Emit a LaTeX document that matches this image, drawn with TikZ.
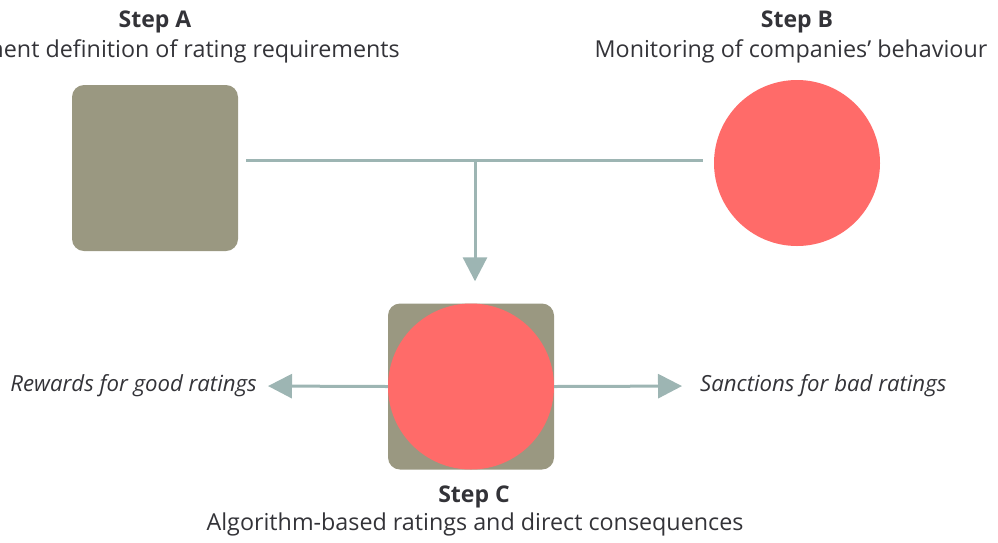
\documentclass[tikz,border=0pt]{standalone}
\usepackage{fontspec}
\setmainfont{Open Sans}
\usetikzlibrary{arrows.meta,positioning}
\definecolor{olive}{RGB}{154,152,129}
\definecolor{salmon}{RGB}{255,107,105}
\definecolor{linkgrey}{RGB}{157,181,179}
\definecolor{txt}{RGB}{51,51,56}
\tikzset{
  square/.style={rectangle,rounded corners=12pt,fill=olive,minimum size=166pt,inner sep=0pt},
  disc/.style={circle,fill=salmon,minimum size=166pt,inner sep=0pt},
  title/.style={font=\bfseries\fontsize{23}{26}\selectfont,text=txt,anchor=base,inner sep=0pt},
  caption/.style={font=\fontsize{23.3}{26}\selectfont,text=txt,anchor=base,inner sep=0pt},
  effect/.style={font=\itshape\fontsize{22.2}{26}\selectfont,text=txt,inner sep=0pt},
  link/.style={draw=linkgrey,line width=3pt},
  arrow/.style={link,-{Triangle[width=24pt,length=24pt]}}
}
\begin{document}
\begin{tikzpicture}[x=1pt,y=-1pt]
	\useasboundingbox (0,0) rectangle (998,542);
	% step A and step B
	\node[square] (stepA) at (155,168) {};
	\node[disc] (stepB) at (797,163) {};
	\node[title] (titleA) at (155,27) {Step A};
	\node[caption,anchor=base east] (textA) at (400,57) {Government definition of rating requirements};
	\node[title] (titleB) at (797,27) {Step B};
	\node[caption] (textB) at (791,57) {Monitoring of companies’ behaviour};
	% step C
	\node[square] (stepC) at (471,386.5) {};
	\node[disc] (discC) at (stepC) {};
	\node[title] (titleC) at (474,502) {Step C};
	\node[caption] (textC) at (475,530) {Algorithm-based ratings and direct consequences};
	\node[effect,anchor=east] (reward) at (257,386) {Rewards for good ratings};
	\node[effect,anchor=west] (sanction) at (700,386) {Sanctions for bad ratings};
	% connectors
	\coordinate (join) at (475,160);
	\draw[link,shorten <=8pt,shorten >=11pt] (stepA.east |- join) -- (stepB.west |- join);
	\draw[arrow,shorten >=22pt] (join) -- (join |- stepC.north);
	\draw[arrow,shorten >=11pt] (stepC.west) -- (reward.east);
	\draw[arrow,shorten >=18pt] (stepC.east) -- (sanction.west);
\end{tikzpicture}
\end{document}
